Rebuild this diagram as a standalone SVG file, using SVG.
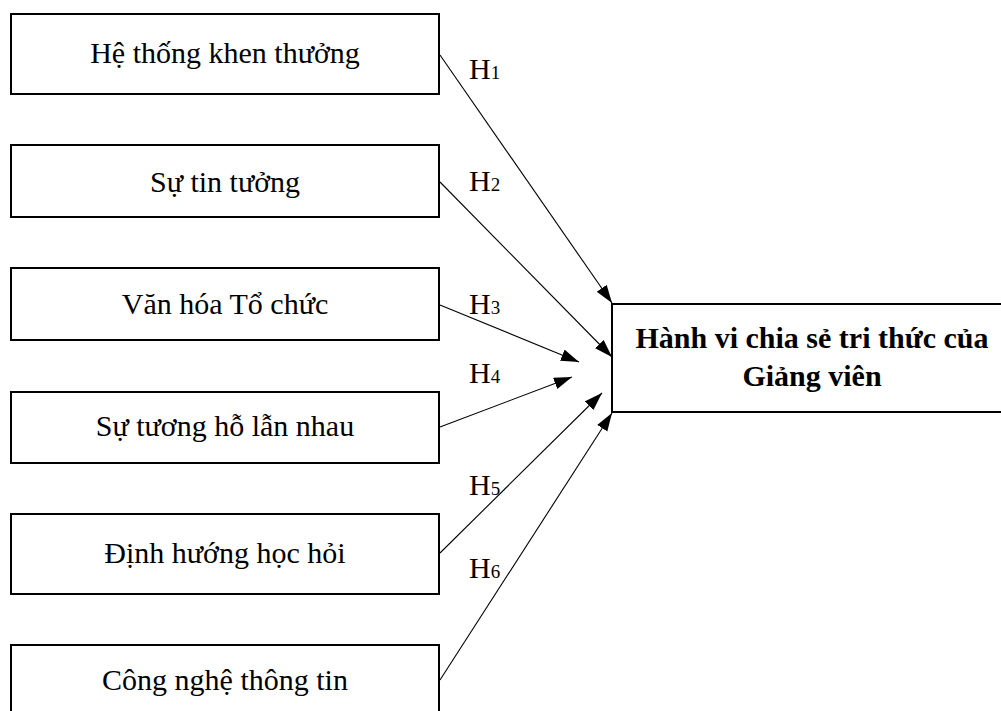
<svg xmlns="http://www.w3.org/2000/svg" width="1001" height="711" viewBox="0 0 1001 711">
<defs>
<style>
.box{fill:#fff;stroke:#000;stroke-width:2}
.t{font-family:"Liberation Serif","Times New Roman",serif;font-size:30px;fill:#000;text-anchor:middle}
.b{font-weight:bold}
.lbl{font-family:"Liberation Serif","Times New Roman",serif;font-size:30px;fill:#000}
.sub{font-size:19px}
.c{stroke:#000;stroke-width:1.1;fill:none;marker-end:url(#ah)}
</style>
<marker id="ah" markerUnits="userSpaceOnUse" markerWidth="19" markerHeight="13" refX="18" refY="6" orient="auto">
<path d="M0,0 L18,6 L0,12 z" fill="#000"/>
</marker>
</defs>
<rect width="1001" height="711" fill="#fff"/>
<g id="n1"><rect class="box" x="11" y="14" width="428" height="80"/><text class="t" x="225" y="63">Hệ thống khen thưởng</text></g>
<g id="n2"><rect class="box" x="11" y="145" width="428" height="72"/><text class="t" x="225" y="192">Sự tin tưởng</text></g>
<g id="n3"><rect class="box" x="11" y="268" width="428" height="72"/><text class="t" x="225" y="314">Văn hóa Tổ chức</text></g>
<g id="n4"><rect class="box" x="11" y="392" width="428" height="71"/><text class="t" x="225" y="436">Sự tương hỗ lẫn nhau</text></g>
<g id="n5"><rect class="box" x="11" y="514" width="428" height="80"/><text class="t" x="225" y="563">Định hướng học hỏi</text></g>
<g id="n6"><rect class="box" x="11" y="645" width="428" height="80"/><text class="t" x="225" y="690">Công nghệ thông tin</text></g>
<g id="target"><rect class="box" x="612" y="304" width="400" height="108"/><text class="t b" x="812" y="348">Hành vi chia sẻ tri thức của</text><text class="t b" x="812" y="386">Giảng viên</text></g>
<g id="connectors">
<line class="c" x1="440" y1="55" x2="612" y2="303"/>
<line class="c" x1="440" y1="182" x2="612" y2="357"/>
<line class="c" x1="440" y1="305" x2="579" y2="362"/>
<line class="c" x1="440" y1="427" x2="572" y2="377"/>
<line class="c" x1="440" y1="553" x2="602" y2="393"/>
<line class="c" x1="440" y1="680" x2="612" y2="413"/>
</g>
<g id="labels">
<text class="lbl" x="469" y="79">H<tspan class="sub">1</tspan></text>
<text class="lbl" x="469" y="191">H<tspan class="sub">2</tspan></text>
<text class="lbl" x="469" y="314">H<tspan class="sub">3</tspan></text>
<text class="lbl" x="469" y="383">H<tspan class="sub">4</tspan></text>
<text class="lbl" x="469" y="495">H<tspan class="sub">5</tspan></text>
<text class="lbl" x="469" y="578">H<tspan class="sub">6</tspan></text>
</g>
</svg>
